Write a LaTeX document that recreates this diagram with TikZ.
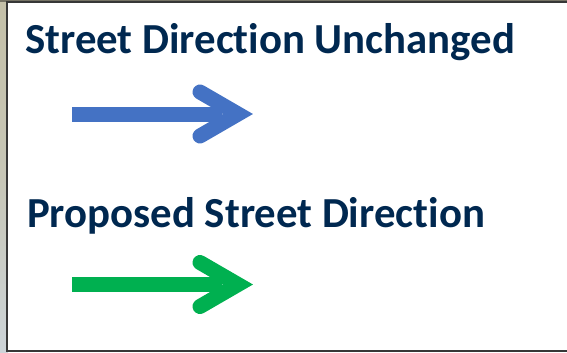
\documentclass[tikz,border=0pt]{standalone}
\usepackage{fontspec}
\setmainfont[Ligatures=NoCommon]{Carlito}
\usepackage{xcolor}
\usetikzlibrary{calc}
\definecolor{titleColor}{RGB}{0,40,80}
\definecolor{keepColor}{RGB}{68,114,196}
\definecolor{newColor}{RGB}{0,176,80}
\definecolor{frameColor}{RGB}{55,55,55}
\definecolor{mapTop}{RGB}{196,192,168}
\definecolor{mapLow}{RGB}{205,212,216}
\tikzset{
  legendtext/.style={anchor=base west, inner sep=0pt, text=titleColor,
    font=\fontsize{42.8}{48}\selectfont\bfseries},
  shaft/.style={line width=15pt, line cap=butt},
  head/.style={line width=15pt, line cap=round, line join=miter, miter limit=10}
}

\begin{document}
\begin{tikzpicture}[x=1pt,y=-1pt]
\useasboundingbox (0,0) rectangle (567,353);
\shade [top color=mapTop, bottom color=mapLow, middle color=mapTop!70!mapLow] (0,0) rectangle (8,353);
\fill [mapTop!60!black] (0,0) rectangle (567,2);
\fill [white] (7,2) rectangle (567,351);
\draw [frameColor, line width=1.5pt] (567,2) -- (7,2) -- (7,351) -- (567,351);

\node [legendtext] (unchanged) at (25,53) {Street Direction Unchanged};
\node [legendtext] (proposed) at (27,227) {Proposed Street Direction};

\draw [keepColor, shaft] (72,114) -- (222,114);
\draw [keepColor, head] (200,92) -- (238,114) -- (200,136);

\draw [newColor, shaft] (72,284.5) -- (222,284.5);
\draw [newColor, head] (200,262.5) -- (238,284.5) -- (200,306.5);
\end{tikzpicture}
\end{document}
